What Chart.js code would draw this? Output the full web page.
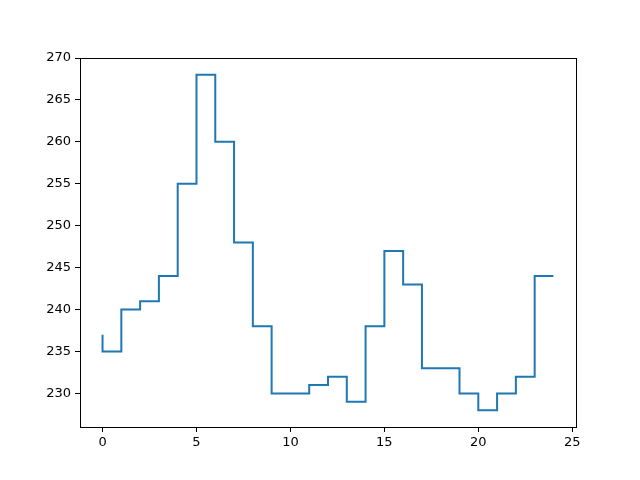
<!DOCTYPE html>
<html>
<head>
<meta charset="utf-8">
<script src="https://cdn.jsdelivr.net/npm/chart.js@4/dist/chart.umd.min.js"></script>
<style>
  html, body { margin: 0; padding: 0; background: #fff; }
  #wrap { width: 640px; height: 480px; }
</style>
</head>
<body>
<div id="wrap"><canvas id="stepChart" width="640" height="480"></canvas></div>
<script>
"use strict";
const LINE_BLUE = "#1f77b4";

// step positions and values (matplotlib step, where="pre")
const xValues = [0, 1, 2, 3, 4, 5, 6, 7, 8, 9, 10, 11, 12, 13, 14, 15, 16, 17, 18, 19, 20, 21, 22, 23, 24];
const yValues = [237, 235, 240, 241, 244, 255, 268, 260, 248, 238, 230, 230, 231, 232, 229, 238, 247, 243, 233, 233, 230, 228, 230, 232, 244];
const xTicks = [0, 5, 10, 15, 20, 25];
const yTicks = [230, 235, 240, 245, 250, 255, 260, 265, 270];

const points = xValues.map((x, i) => ({ x: x, y: yValues[i] }));

// draw the top and right spines too
const frame = {
  id: "frame",
  afterDraw(chart) {
    const { ctx, chartArea: a } = chart;
    ctx.save();
    ctx.strokeStyle = "#000";
    ctx.lineWidth = 1;
    ctx.strokeRect(a.left + 0.5, a.top + 0.5, a.right - a.left, a.bottom - a.top);
    ctx.restore();
  },
};

const tickFont = { family: "DejaVu Sans", size: 13 };

const ctx = document.getElementById("stepChart").getContext("2d");
const myChart = new Chart(ctx, {
  type: "line",
  data: {
    datasets: [
      {
        data: points,
        stepped: "after",
        borderColor: LINE_BLUE,
        borderWidth: 2,
        pointRadius: 0,
        fill: false,
      },
    ],
  },
  options: {
    responsive: false,
    animation: false,
    layout: { padding: { left: 0, right: 64, top: 58, bottom: 0 } },
    plugins: { legend: { display: false }, tooltip: { enabled: false } },
    scales: {
      x: {
        type: "linear",
        min: -1.2,
        max: 25.2,
        afterBuildTicks: (scale) => {
          scale.ticks = xTicks.map((v) => ({ value: v }));
        },
        afterFit: (scale) => {
          scale.height = 53;
        },
        grid: { drawOnChartArea: false, tickLength: 5, color: "#000" },
        border: { color: "#000", width: 1 },
        ticks: { color: "#000", font: tickFont, padding: 3, maxRotation: 0 },
      },
      y: {
        min: 226,
        max: 270,
        afterBuildTicks: (scale) => {
          scale.ticks = yTicks.map((v) => ({ value: v }));
        },
        afterFit: (scale) => {
          scale.width = 80;
        },
        grid: { drawOnChartArea: false, tickLength: 5, color: "#000" },
        border: { color: "#000", width: 1 },
        ticks: { color: "#000", font: tickFont, padding: 4 },
      },
    },
  },
  plugins: [frame],
});
</script>
</body>
</html>
